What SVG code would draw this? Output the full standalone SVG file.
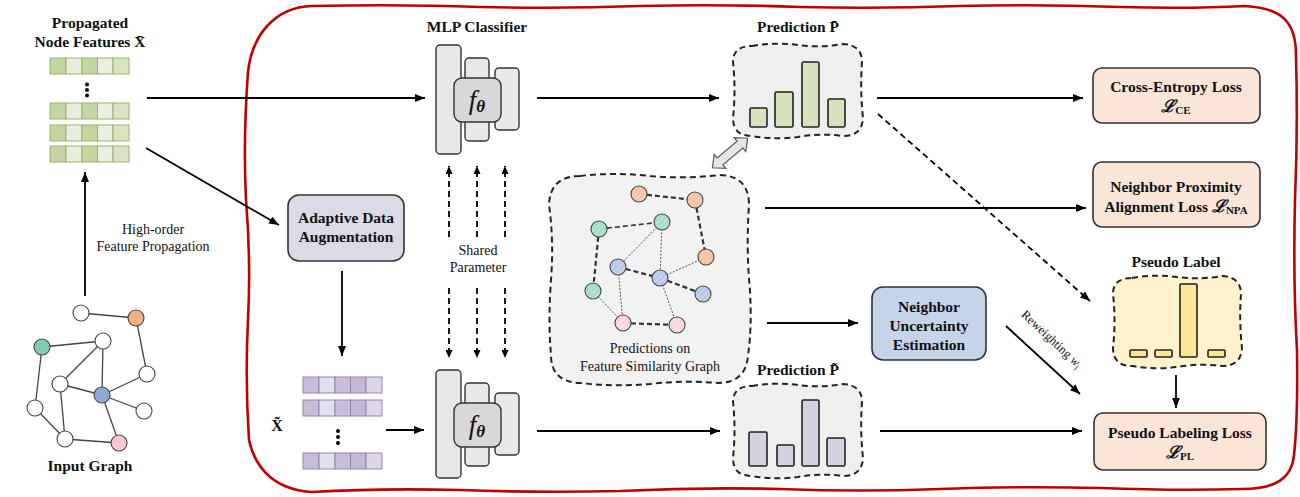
<svg xmlns="http://www.w3.org/2000/svg" width="1300" height="497" viewBox="0 0 1300 497">
<defs>
<style>
.b{font-family:'Liberation Serif','Times New Roman',serif;font-weight:bold;font-size:15.5px;fill:#111;text-anchor:middle}
.r{font-family:'Liberation Serif','Times New Roman',serif;font-size:14px;fill:#111;text-anchor:middle}
.ln{stroke:#000;stroke-width:1.8;fill:none}
.dl{stroke:#000;stroke-width:1.8;fill:none;stroke-dasharray:6,4}
.nd{stroke:#444;stroke-width:1.1}
.ge{stroke:#444;stroke-width:1.3;fill:none}
.thk{stroke:#333;stroke-width:2.2;fill:none;stroke-dasharray:5,3}
.thn{stroke:#555;stroke-width:1;fill:none;stroke-dasharray:2,1.5}
.mlp{fill:#e8e8e8;stroke:#333;stroke-width:1.4}
.fb{fill:#d8d8d8;stroke:#333;stroke-width:1.4}
.db{stroke:#222;stroke-width:2;stroke-dasharray:6,4}
.bar{stroke:#222;stroke-width:1.6}
.loss{fill:#fbe5d6;stroke:#333;stroke-width:1.6}
.ft{font-family:'Liberation Serif','Times New Roman',serif;font-style:italic;font-size:27px;fill:#111;text-anchor:middle}
</style>
<marker id="ah" markerUnits="userSpaceOnUse" markerWidth="11" markerHeight="8" refX="10" refY="4" orient="auto">
<path d="M0,0 L10,4 L0,8 z" fill="#000"/>
</marker>
<marker id="ahs" markerUnits="userSpaceOnUse" markerWidth="9" markerHeight="7" refX="8" refY="3.5" orient="auto">
<path d="M0,0 L8,3.5 L0,7 z" fill="#000"/>
</marker>
<pattern id="pO" width="4" height="4" patternUnits="userSpaceOnUse" patternTransform="rotate(45)"><rect width="4" height="4" fill="#f8cbad"/><line x1="0" y1="0" x2="0" y2="4" stroke="#e9a97e" stroke-width="1"/></pattern>
<pattern id="pT" width="4" height="4" patternUnits="userSpaceOnUse" patternTransform="rotate(45)"><rect width="4" height="4" fill="#b3e2cf"/><line x1="0" y1="0" x2="0" y2="4" stroke="#82c9ad" stroke-width="1"/></pattern>
<pattern id="pB" width="4" height="4" patternUnits="userSpaceOnUse" patternTransform="rotate(45)"><rect width="4" height="4" fill="#c3d2ec"/><line x1="0" y1="0" x2="0" y2="4" stroke="#97afd6" stroke-width="1"/></pattern>
<pattern id="pP" width="4" height="4" patternUnits="userSpaceOnUse" patternTransform="rotate(45)"><rect width="4" height="4" fill="#fbdde2"/><line x1="0" y1="0" x2="0" y2="4" stroke="#f0bcc5" stroke-width="1"/></pattern>
</defs>
<rect width="1300" height="497" fill="#fff"/>

<!-- red frame -->
<path id="frame" d="M248,72 C252,35 275,7 312,6 Q400,4 480,7 Q560,9 640,6 Q720,4 800,7 Q880,9 960,6 Q1040,4 1120,7 Q1190,9 1245,6 C1282,8 1296,22 1296,55 Q1298,130 1295,200 Q1293,280 1297,350 Q1298,420 1294,455 C1292,478 1276,489 1242,489 Q1180,491 1100,488 Q1020,486 940,489 Q860,492 780,489 Q700,487 620,491 Q540,493 460,490 Q380,488 312,492 C278,490 256,472 249,440 Q245,380 248,320 Q251,260 246,200 Q243,140 248,72 Z" fill="none" stroke="#c00000" stroke-width="2.6"/>

<!-- Propagated node features -->
<g id="features-top">
<text class="b" x="90" y="28">Propagated</text>
<text class="b" x="90" y="47">Node Features X̄</text>
<g stroke="#9bb26f" stroke-width="1">
<rect x="50" y="58" width="16" height="16" fill="#c5d5a2"/><rect x="66" y="58" width="16" height="16" fill="#e9efdc"/><rect x="82" y="58" width="15.5" height="16" fill="#c5d5a2"/><rect x="97.5" y="58" width="15.5" height="16" fill="#eaf0de"/><rect x="113" y="58" width="16" height="16" fill="#d8e4c2"/>
<rect x="50" y="103" width="16" height="16" fill="#c5d5a2"/><rect x="66" y="103" width="16" height="16" fill="#e9efdc"/><rect x="82" y="103" width="15.5" height="16" fill="#c5d5a2"/><rect x="97.5" y="103" width="15.5" height="16" fill="#eaf0de"/><rect x="113" y="103" width="16" height="16" fill="#d8e4c2"/>
<rect x="50" y="125" width="16" height="16" fill="#c5d5a2"/><rect x="66" y="125" width="16" height="16" fill="#e9efdc"/><rect x="82" y="125" width="15.5" height="16" fill="#c5d5a2"/><rect x="97.5" y="125" width="15.5" height="16" fill="#eaf0de"/><rect x="113" y="125" width="16" height="16" fill="#d8e4c2"/>
<rect x="50" y="146" width="16" height="16" fill="#c5d5a2"/><rect x="66" y="146" width="16" height="16" fill="#e9efdc"/><rect x="82" y="146" width="15.5" height="16" fill="#c5d5a2"/><rect x="97.5" y="146" width="15.5" height="16" fill="#eaf0de"/><rect x="113" y="146" width="16" height="16" fill="#d8e4c2"/>
</g>
<circle cx="87" cy="84.5" r="2"/><circle cx="87" cy="90" r="2"/><circle cx="87" cy="95.5" r="2"/>
</g>

<!-- Input graph -->
<g id="input-graph">
<g class="ge">
<line x1="81" y1="313" x2="136" y2="318"/><line x1="136" y1="318" x2="147" y2="374"/>
<line x1="42" y1="347" x2="103" y2="341"/><line x1="103" y1="341" x2="60" y2="384"/>
<line x1="103" y1="341" x2="102" y2="395"/><line x1="60" y1="384" x2="102" y2="395"/>
<line x1="102" y1="395" x2="147" y2="374"/><line x1="102" y1="395" x2="144" y2="411"/>
<line x1="102" y1="395" x2="119" y2="443"/><line x1="42" y1="347" x2="35" y2="408"/>
<line x1="35" y1="408" x2="65" y2="439"/><line x1="60" y1="384" x2="65" y2="439"/>
<line x1="65" y1="439" x2="119" y2="443"/>
</g>
<g class="nd">
<circle cx="81" cy="313" r="8" fill="#fff"/><circle cx="136" cy="318" r="8" fill="#f4b183"/>
<circle cx="42" cy="347" r="8" fill="#7fcdb4"/><circle cx="103" cy="341" r="8" fill="#fff"/>
<circle cx="147" cy="374" r="8" fill="#fff"/><circle cx="60" cy="384" r="8" fill="#fff"/>
<circle cx="102" cy="395" r="8" fill="#8faad6"/><circle cx="144" cy="411" r="8" fill="#fff"/>
<circle cx="35" cy="408" r="8" fill="#fff"/><circle cx="65" cy="439" r="8" fill="#fff"/>
<circle cx="119" cy="443" r="8" fill="#f9c8cf"/>
</g>
<text class="b" x="90" y="471">Input Graph</text>
</g>

<text class="r" x="153" y="234">High-order</text>
<text class="r" x="153" y="251">Feature Propagation</text>

<!-- ADA -->
<g id="ada">
<rect x="288" y="195" width="116" height="66" rx="11" fill="#dcdae5" stroke="#333" stroke-width="1.6"/>
<text class="b" x="346" y="223">Adaptive Data</text>
<text class="b" x="346" y="242">Augmentation</text>
</g>

<!-- augmented features -->
<g id="features-aug">
<text class="b" x="277" y="431" style="font-size:16px">X̃</text>
<g stroke="#9485b0" stroke-width="1">
<rect x="303" y="377" width="16" height="16" fill="#c7bdd8"/><rect x="319" y="377" width="16" height="16" fill="#e4dfec"/><rect x="335" y="377" width="15.5" height="16" fill="#c9bfd9"/><rect x="350.5" y="377" width="15.5" height="16" fill="#c4b9d5"/><rect x="366" y="377" width="16" height="16" fill="#ddd7e7"/>
<rect x="303" y="400" width="16" height="16" fill="#c7bdd8"/><rect x="319" y="400" width="16" height="16" fill="#e4dfec"/><rect x="335" y="400" width="15.5" height="16" fill="#c9bfd9"/><rect x="350.5" y="400" width="15.5" height="16" fill="#c4b9d5"/><rect x="366" y="400" width="16" height="16" fill="#ddd7e7"/>
<rect x="303" y="453" width="16" height="16" fill="#c7bdd8"/><rect x="319" y="453" width="16" height="16" fill="#e4dfec"/><rect x="335" y="453" width="15.5" height="16" fill="#c9bfd9"/><rect x="350.5" y="453" width="15.5" height="16" fill="#c4b9d5"/><rect x="366" y="453" width="16" height="16" fill="#ddd7e7"/>
</g>
<circle cx="338" cy="431" r="2"/><circle cx="338" cy="437" r="2"/><circle cx="338" cy="443" r="2"/>
</g>

<!-- MLP top -->
<g id="mlp-top">
<text class="b" x="477" y="32">MLP Classifier</text>
<rect class="mlp" x="436" y="45" width="25" height="109" rx="4"/>
<rect class="mlp" x="465" y="58" width="24" height="83" rx="4"/>
<rect class="mlp" x="495" y="68" width="24" height="62" rx="4"/>
<rect class="fb" x="454" y="78" width="47" height="44" rx="8"/>
<text class="ft" x="477" y="109">f<tspan font-size="17" font-weight="bold" dy="3">θ</tspan></text>
</g>

<!-- MLP bottom -->
<g id="mlp-bottom">
<rect class="mlp" x="436" y="370" width="25" height="108" rx="4"/>
<rect class="mlp" x="465" y="383" width="24" height="83" rx="4"/>
<rect class="mlp" x="495" y="393" width="24" height="62" rx="4"/>
<rect class="fb" x="454" y="403" width="47" height="44" rx="8"/>
<text class="ft" x="477" y="434">f<tspan font-size="17" font-weight="bold" dy="3">θ</tspan></text>
</g>

<text class="r" x="478" y="255">Shared</text>
<text class="r" x="478" y="272">Parameter</text>

<!-- Prediction top -->
<g id="pred-top">
<text class="b" x="798" y="32">Prediction P̄</text>
<path class="db" fill="#efefef" d="M752,46 Q775,42 798,45 Q820,48 843,44 Q862,45 862,62 Q860,90 863,118 Q862,136 843,136 Q820,133 798,137 Q775,140 752,136 Q733,136 733,118 Q736,90 733,62 Q733,46 752,46 Z"/>
<g fill="#d6e2bc" class="bar">
<rect x="750" y="108" width="17" height="19" rx="1.5"/><rect x="775" y="92" width="18" height="35" rx="1.5"/><rect x="802" y="62" width="17" height="65" rx="1.5"/><rect x="828" y="99" width="17" height="28" rx="1.5"/>
</g>
</g>

<!-- Prediction bottom -->
<g id="pred-bottom">
<text class="b" x="798" y="375">Prediction P̃</text>
<path class="db" fill="#efefef" d="M752,386 Q775,382 798,385 Q820,388 843,384 Q862,385 862,402 Q860,430 863,458 Q862,476 843,476 Q820,473 798,477 Q775,480 752,476 Q733,476 733,458 Q736,430 733,402 Q733,386 752,386 Z"/>
<g fill="#d5d1df" class="bar">
<rect x="749" y="432" width="18" height="34" rx="1.5"/><rect x="777" y="445" width="17" height="21" rx="1.5"/><rect x="802" y="400" width="17" height="66" rx="1.5"/><rect x="827" y="438" width="18" height="28" rx="1.5"/>
</g>
</g>

<!-- double arrow -->
<g id="double-arrow" transform="translate(730,153) rotate(-40)">
<path d="M-23,0 L-13,-9 L-13,-4.5 L13,-4.5 L13,-9 L23,0 L13,9 L13,4.5 L-13,4.5 L-13,9 Z" fill="#e6e6e6" stroke="#555" stroke-width="1.2"/>
</g>

<!-- feature similarity graph -->
<g id="sim-graph">
<path class="db" fill="#f2f2f2" d="M580,176 Q615,172 650,176 Q685,179 720,175 Q749,176 749,205 Q746,250 750,290 Q752,330 748,355 Q746,383 718,383 Q685,380 650,384 Q615,387 580,383 Q551,382 551,355 Q548,320 551,280 Q554,240 549,205 Q550,176 580,176 Z"/>
<line class="thk" x1="639" y1="194" x2="695" y2="200"/>
<line class="thk" x1="695" y1="200" x2="706" y2="257"/>
<line class="thk" x1="599" y1="229" x2="662" y2="222" style="stroke-width:1.6"/>
<line class="thk" x1="599" y1="229" x2="593" y2="291"/>
<line class="thk" x1="618" y1="267" x2="660" y2="278"/>
<line class="thk" x1="660" y1="278" x2="703" y2="294"/>
<line class="thk" x1="623" y1="323" x2="677" y2="325"/>
<line class="thn" x1="662" y1="222" x2="618" y2="267"/>
<line class="thn" x1="662" y1="222" x2="660" y2="278"/>
<line class="thn" x1="660" y1="278" x2="706" y2="257"/>
<line class="thn" x1="618" y1="267" x2="623" y2="323"/>
<line class="thn" x1="593" y1="291" x2="623" y2="323"/>
<line class="thn" x1="660" y1="278" x2="677" y2="325"/>
<g class="nd">
<circle cx="639" cy="194" r="8" fill="url(#pO)"/><circle cx="695" cy="200" r="8" fill="url(#pO)"/><circle cx="706" cy="257" r="8" fill="url(#pO)"/>
<circle cx="599" cy="229" r="8" fill="url(#pT)"/><circle cx="662" cy="222" r="8" fill="url(#pT)"/><circle cx="593" cy="291" r="8" fill="url(#pT)"/>
<circle cx="618" cy="267" r="8" fill="url(#pB)"/><circle cx="660" cy="278" r="8" fill="url(#pB)"/><circle cx="703" cy="294" r="8" fill="url(#pB)"/>
<circle cx="623" cy="323" r="8" fill="url(#pP)"/><circle cx="677" cy="325" r="8" fill="url(#pP)"/>
</g>
<text class="r" x="650" y="353">Predictions on</text>
<text class="r" x="650" y="371">Feature Similarity Graph</text>
</g>

<!-- Neighbor uncertainty -->
<g id="nue">
<rect x="872" y="287" width="114" height="73" rx="11" fill="#c6d4ea" stroke="#333" stroke-width="1.6"/>
<text class="b" x="929" y="312">Neighbor</text>
<text class="b" x="929" y="331">Uncertainty</text>
<text class="b" x="929" y="350">Estimation</text>
</g>

<!-- losses -->
<g id="ce-loss">
<rect class="loss" x="1093" y="68" width="167" height="55" rx="9"/>
<text class="b" x="1176" y="92">Cross-Entropy Loss</text>
<text class="b" x="1176" y="112"><tspan font-style="italic" font-size="17">ℒ</tspan><tspan font-size="11" dy="2">CE</tspan></text>
</g>
<g id="npa-loss">
<rect class="loss" x="1093" y="162" width="167" height="65" rx="9"/>
<text class="b" x="1176" y="192">Neighbor Proximity</text>
<text class="b" x="1176" y="212">Alignment Loss <tspan font-style="italic" font-size="17">ℒ</tspan><tspan font-size="11" dy="2">NPA</tspan></text>
</g>
<g id="pseudo-label">
<text class="b" x="1176" y="267">Pseudo Label</text>
<path class="db" fill="#fff2cc" d="M1132,278 Q1155,274 1177,277 Q1200,280 1222,276 Q1241,277 1241,294 Q1239,320 1242,348 Q1241,366 1222,366 Q1200,363 1177,367 Q1155,370 1132,366 Q1113,366 1113,348 Q1116,320 1113,294 Q1113,278 1132,278 Z"/>
<g fill="#ffe699" class="bar">
<rect x="1130" y="350" width="17" height="7" rx="1"/><rect x="1155" y="350" width="17" height="7" rx="1"/><rect x="1180" y="284" width="17" height="73" rx="1"/><rect x="1208" y="350" width="17" height="7" rx="1"/>
</g>
</g>
<g id="pl-loss">
<rect class="loss" x="1094" y="413" width="172" height="57" rx="9"/>
<text class="b" x="1180" y="438">Pseudo Labeling Loss</text>
<text class="b" x="1180" y="458"><tspan font-style="italic" font-size="17">ℒ</tspan><tspan font-size="11" dy="2">PL</tspan></text>
</g>

<text class="r" transform="translate(1049,342) rotate(43)" style="font-size:12.5px">Reweighting <tspan font-style="italic">w</tspan><tspan font-size="9" dy="3">i</tspan></text>

<!-- connectors -->
<g id="connectors">
<line class="ln" x1="85" y1="296" x2="85" y2="172" marker-end="url(#ah)"/>
<line class="ln" x1="147" y1="98" x2="425" y2="98" marker-end="url(#ah)"/>
<line class="ln" x1="146" y1="148" x2="279" y2="225" marker-end="url(#ah)"/>
<line class="ln" x1="342" y1="271" x2="342" y2="356" marker-end="url(#ah)"/>
<line class="ln" x1="386" y1="430" x2="424" y2="430" marker-end="url(#ah)"/>
<line class="ln" x1="537" y1="98" x2="719" y2="98" marker-end="url(#ah)"/>
<line class="ln" x1="537" y1="431" x2="720" y2="431" marker-end="url(#ah)"/>
<line class="ln" x1="877" y1="98" x2="1083" y2="98" marker-end="url(#ah)"/>
<line class="ln" x1="765" y1="208" x2="1086" y2="208" marker-end="url(#ah)"/>
<line class="ln" x1="767" y1="323" x2="858" y2="323" marker-end="url(#ah)"/>
<line class="ln" x1="880" y1="431" x2="1082" y2="431" marker-end="url(#ah)"/>
<line class="ln" x1="1006" y1="326" x2="1080" y2="394" marker-end="url(#ah)"/>
<line class="ln" x1="1176" y1="375" x2="1176" y2="408" marker-end="url(#ah)"/>
<line class="dl" x1="878" y1="114" x2="1090" y2="301" marker-end="url(#ah)"/>
<line class="dl" x1="449" y1="237" x2="449" y2="166" marker-end="url(#ahs)"/>
<line class="dl" x1="477" y1="237" x2="477" y2="166" marker-end="url(#ahs)"/>
<line class="dl" x1="505" y1="237" x2="505" y2="166" marker-end="url(#ahs)"/>
<line class="dl" x1="449" y1="288" x2="449" y2="358" marker-end="url(#ahs)"/>
<line class="dl" x1="477" y1="288" x2="477" y2="358" marker-end="url(#ahs)"/>
<line class="dl" x1="505" y1="288" x2="505" y2="358" marker-end="url(#ahs)"/>
</g>
</svg>
